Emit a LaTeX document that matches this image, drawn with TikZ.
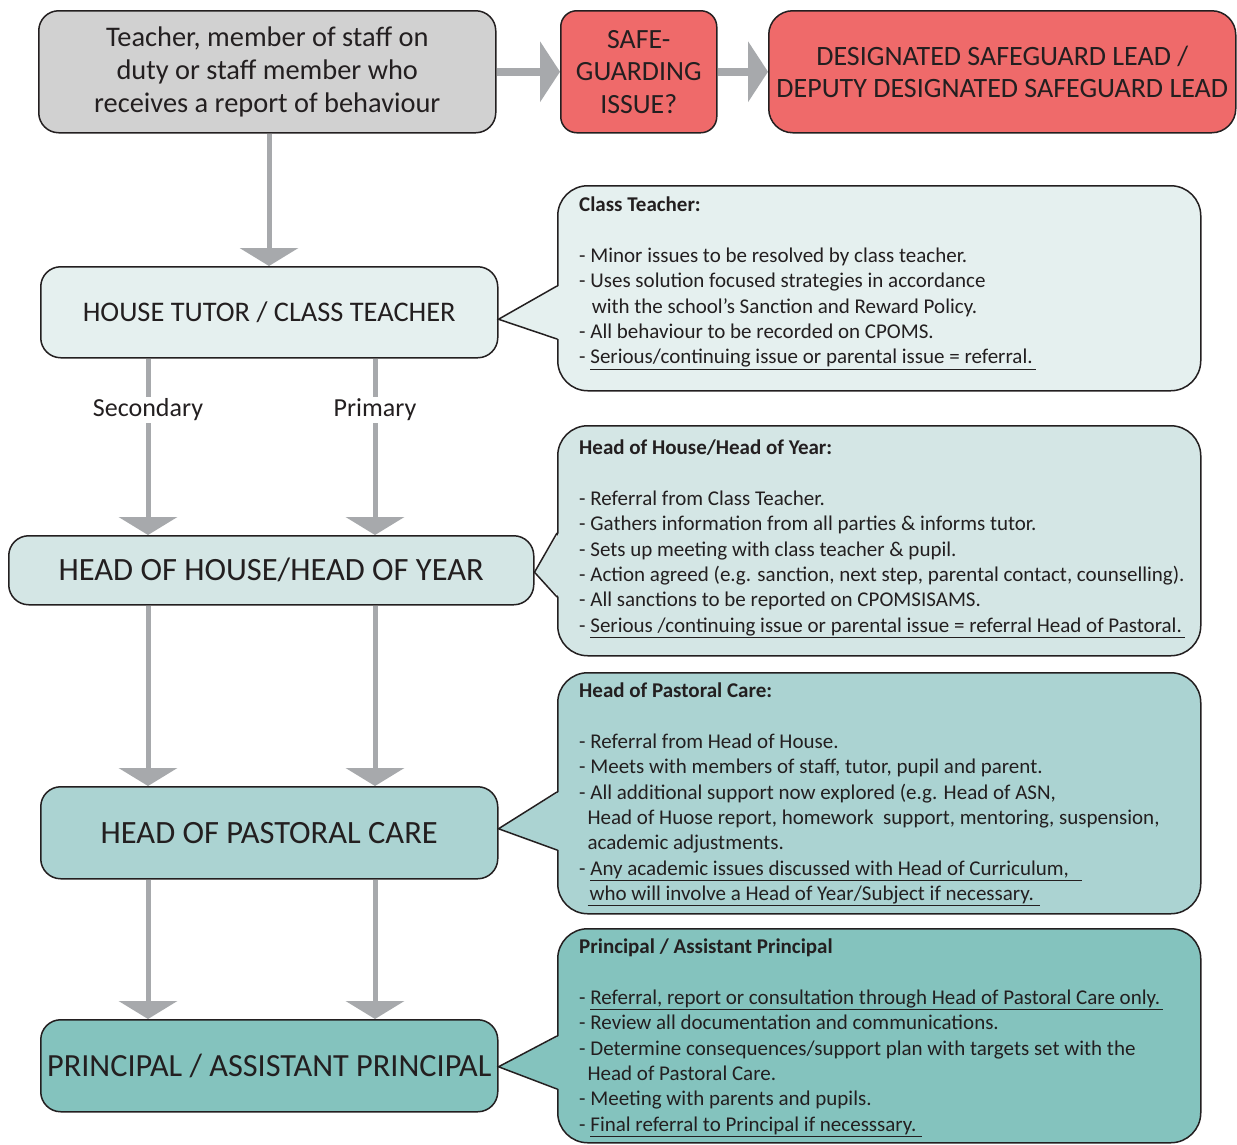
\documentclass[tikz,border=0pt]{standalone}
\usepackage{fontspec}
\setmainfont{Carlito}
\usetikzlibrary{arrows.meta,calc}
\definecolor{grayfill}{RGB}{209,209,209}
\definecolor{redfill}{RGB}{239,106,106}
\definecolor{cA}{RGB}{229,240,239}
\definecolor{cB}{RGB}{212,230,229}
\definecolor{cC}{RGB}{171,211,210}
\definecolor{cD}{RGB}{132,195,190}
\definecolor{arrowgray}{RGB}{167,169,172}
\definecolor{edgecol}{RGB}{35,31,32}
\newcommand{\ulin}[1]{\underline{#1\hspace{3pt}}}
\begin{document}
\begin{tikzpicture}[x=1pt,y=-1pt,
  box/.style={draw=edgecol,line width=1.5pt,rounded corners=20pt,inner sep=0pt,align=center,anchor=north west,text=edgecol},
  varr/.style={draw=arrowgray,line width=5pt,-{Triangle[width=58pt,length=18pt]}},
  harr/.style={draw=arrowgray,line width=8pt,-{Triangle[width=60pt,length=20pt]}},
  callbox/.style={draw=edgecol,line width=1.5pt,rounded corners=30pt,inner sep=0pt,anchor=north west},
  ptr/.style={draw=edgecol,line width=1.5pt,line join=miter},
  ctext/.style={anchor=north west,align=left,inner sep=0pt,text=edgecol,font=\fontsize{21}{25.3}\selectfont},
  lbl/.style={fill=white,inner sep=2pt,text=edgecol,font=\fontsize{26}{28}\selectfont},
]
\useasboundingbox (0,0) rectangle (1237,1144);
\fill[white] (0,0) rectangle (1237,1144);

% top row
\node[box,fill=grayfill,minimum width=457pt,minimum height=122pt,font=\fontsize{28.4}{33}\selectfont] (rep) at (38,10)
  {Teacher, member of staff on\\ duty or staff member who\\ receives a report of behaviour};
\node[box,fill=redfill,rounded corners=16pt,minimum width=156pt,minimum height=122pt,font=\fontsize{27.8}{32.5}\selectfont] (safe) at (560,10)
  {SAFE-\\GUARDING\\ISSUE?};
\node[box,fill=redfill,rounded corners=24pt,minimum width=467pt,minimum height=122pt,font=\fontsize{28}{32}\selectfont] (dsl) at (768,10)
  {DESIGNATED SAFEGUARD LEAD /\\DEPUTY DESIGNATED SAFEGUARD LEAD};
\draw[harr] (rep.east) -- (safe.west);
\draw[harr] (safe.east) -- (dsl.west);

% left column
\node[box,fill=cA,minimum width=457pt,minimum height=91pt,font=\fontsize{28.4}{30}\selectfont] (ht) at (40,266)
  {HOUSE TUTOR / CLASS TEACHER};
\node[box,fill=cB,minimum width=525pt,minimum height=69pt,font=\fontsize{32.5}{34}\selectfont] (hoh) at (8,535)
  {HEAD OF HOUSE/HEAD OF YEAR};
\node[box,fill=cC,minimum width=457pt,minimum height=92pt,font=\fontsize{32.5}{34}\selectfont] (hpc) at (40,786)
  {HEAD OF PASTORAL CARE};
\node[box,fill=cD,minimum width=457pt,minimum height=92pt,font=\fontsize{32.3}{34}\selectfont] (pri) at (40,1019)
  {PRINCIPAL / ASSISTANT PRINCIPAL};

\coordinate (xs) at (148,0);
\coordinate (xp) at (375,0);
\coordinate (xm) at (269,0);
\draw[varr] (rep.south -| xm) -- (ht.north -| xm);
\draw[varr] (ht.south -| xs) -- node[lbl,pos=0.29]{Secondary} (hoh.north -| xs);
\draw[varr] (ht.south -| xp) -- node[lbl,pos=0.29]{Primary} (hoh.north -| xp);
\draw[varr] (hoh.south -| xs) -- (hpc.north -| xs);
\draw[varr] (hoh.south -| xp) -- (hpc.north -| xp);
\draw[varr] (hpc.south -| xs) -- (pri.north -| xs);
\draw[varr] (hpc.south -| xp) -- (pri.north -| xp);

% callouts
\node[callbox,fill=cA,minimum width=643pt,minimum height=205pt] (k1) at (557,185) {};
\node[callbox,fill=cB,minimum width=643pt,minimum height=230pt] (k2) at (557,425) {};
\node[callbox,fill=cC,minimum width=643pt,minimum height=241pt] (k3) at (557,672) {};
\node[callbox,fill=cD,minimum width=643pt,minimum height=214pt] (k4) at (557,928) {};

% pointers
\fill[cA] ($(k1.west |- 0,286)+(2,0)$) -- ($(ht.east)+(0,7)$) -- ($(k1.west |- 0,339)+(2,0)$) -- cycle;
\draw[ptr] (k1.west |- 0,286) -- ($(ht.east)+(0,7)$) -- (k1.west |- 0,339);
\fill[cB] ($(k2.west |- 0,533)+(2,0)$) -- ($(hoh.east)+(0,2)$) -- ($(k2.west |- 0,597)+(2,0)$) -- cycle;
\draw[ptr] (k2.west |- 0,533) -- ($(hoh.east)+(0,2)$) -- (k2.west |- 0,597);
\fill[cC] ($(k3.west |- 0,792)+(2,0)$) -- ($(hpc.east)+(0,-4)$) -- ($(k3.west |- 0,850)+(2,0)$) -- cycle;
\draw[ptr] (k3.west |- 0,792) -- ($(hpc.east)+(0,-4)$) -- (k3.west |- 0,850);
\fill[cD] ($(k4.west |- 0,1036)+(2,0)$) -- ($(pri.east)+(0,1)$) -- ($(k4.west |- 0,1089)+(2,0)$) -- cycle;
\draw[ptr] (k4.west |- 0,1036) -- ($(pri.east)+(0,1)$) -- (k4.west |- 0,1089);

% callout texts
\node[ctext] (t1) at ($(k1.north west)+(22,12)$) {\textbf{Class Teacher:}\\[25.3pt]
- Minor issues to be resolved by class teacher.\\
- Uses solution focused strategies in accordance\\
\hspace*{0.6em}with the school’s Sanction and Reward Policy.\\
- All behaviour to be recorded on CPOMS.\\
- \ulin{Serious/continuing issue or parental issue = referral.}};

\node[ctext] (t2) at ($(k2.north west)+(22,15)$) {\textbf{Head of House/Head of Year:}\\[25.3pt]
- Referral from Class Teacher.\\
- Gathers information from all parties \& informs tutor.\\
- Sets up meeting with class teacher \& pupil.\\
- Action agreed (e.g. sanction, next step, parental contact, counselling).\\
- All sanctions to be reported on CPOMSISAMS.\\
- \ulin{Serious /continuing issue or parental issue = referral Head of Pastoral.}};

\node[ctext] (t3) at ($(k3.north west)+(22,11)$) {\textbf{Head of Pastoral Care:}\\[25.3pt]
- Referral from Head of House.\\
- Meets with members of staff, tutor, pupil and parent.\\
- All additional support now explored (e.g. Head of ASN,\\
\hspace*{0.4em}Head of Huose report, homework\ \ support, mentoring, suspension,\\
\hspace*{0.4em}academic adjustments.\\
- \ulin{Any academic issues discussed with Head of Curriculum,\hspace{10pt}}\\
\hspace*{0.4em}\ulin{\hspace{2pt}who will involve a Head of Year/Subject if necessary.\hspace{3pt}}};

\node[ctext] (t4) at ($(k4.north west)+(22,11)$) {\textbf{Principal / Assistant Principal}\\[25.3pt]
- \ulin{Referral, report or consultation through Head of Pastoral Care only.}\\
- Review all documentation and communications.\\
- Determine consequences/support plan with targets set with the\\
\hspace*{0.4em}Head of Pastoral Care.\\
- Meeting with parents and pupils.\\
- \ulin{Final referral to Principal if necesssary.\hspace{3pt}}};
\end{tikzpicture}
\end{document}
